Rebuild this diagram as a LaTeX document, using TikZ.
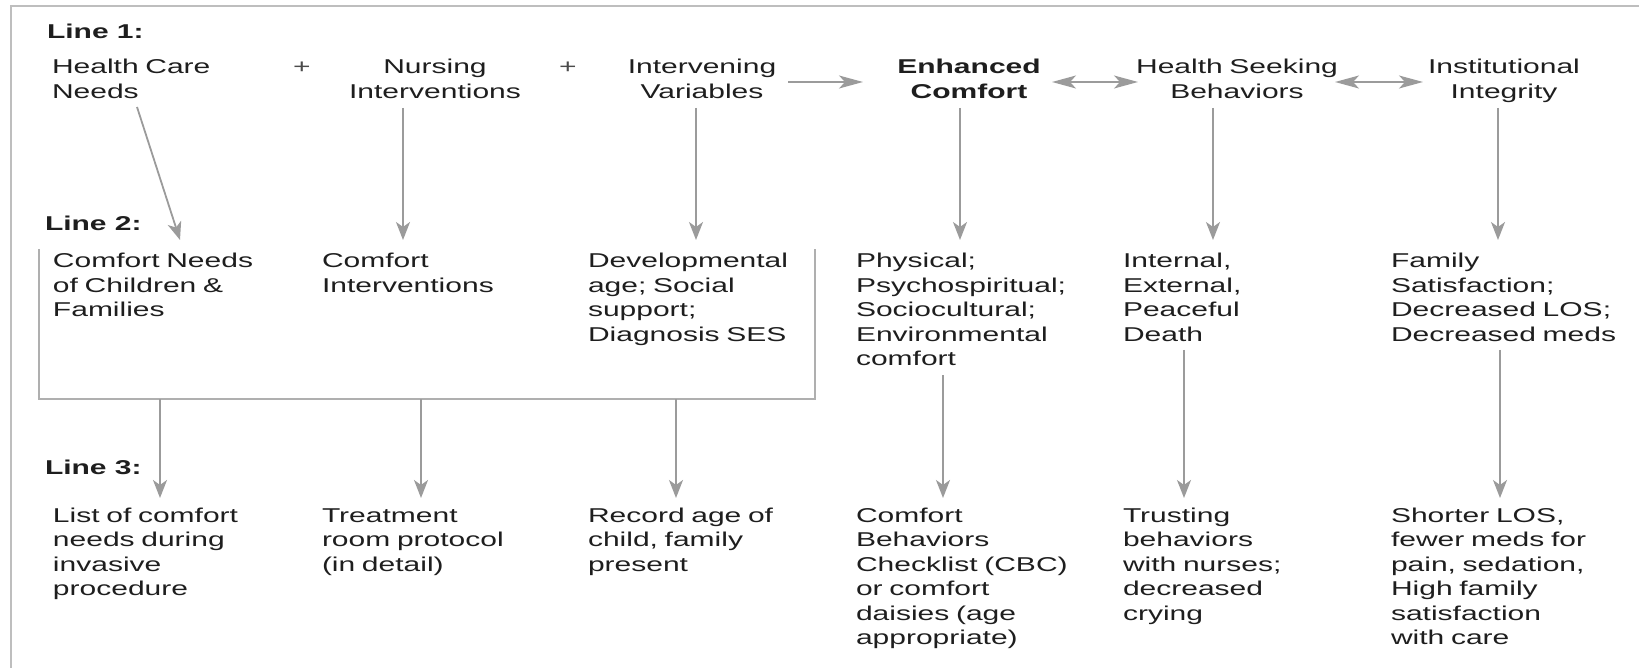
\documentclass[tikz,border=0pt]{standalone}
\usepackage{fontspec}
\setmainfont{Liberation Sans}[FakeStretch=1.5]
\usetikzlibrary{arrows.meta}
\definecolor{txt}{RGB}{30,30,30}
\definecolor{arrc}{RGB}{155,155,155}
\definecolor{boxc}{RGB}{175,175,175}
\definecolor{framec}{RGB}{190,190,190}
\begin{document}
\begin{tikzpicture}[x=0.5pt,y=-0.5pt,
  every node/.style={inner sep=0pt, outer sep=0pt, text=txt, font=\fontsize{10}{12.25}\selectfont},
  lt/.style={anchor=base west, text width=125pt, align=left},
  ct/.style={anchor=base, text width=130pt, align=center},
  lab/.style={anchor=base west, font=\fontsize{10}{12.25}\selectfont\bfseries},
  varr/.style={draw=arrc, line width=0.9pt, -{Stealth[length=9pt,width=7pt,inset=2.5pt]}},
  harr/.style={draw=arrc, line width=0.8pt, -{Stealth[length=12pt,width=6.5pt,inset=3pt]}},
  darr/.style={draw=arrc, line width=0.8pt, {Stealth[length=12pt,width=6.5pt,inset=3pt]}-{Stealth[length=12pt,width=6.5pt,inset=3pt]}},
]
\useasboundingbox (0,0) rectangle (1639,668);
% frame
\draw[framec, line width=1pt] (11,668) -- (11,6) -- (1639,6);
% box round line 2 (first three columns)
\draw[boxc, line width=0.8pt] (39,249) -- (39,399) -- (815,399) -- (815,249);

% labels
\node[lab] (l1) at (47,39) {Line 1:};
\node[lab] (l2) at (45,231) {Line 2:};
\node[lab] (l3) at (45,474) {Line 3:};

% line 1
\node[lt] (hcn) at (52,74) {Health Care\\Needs};
\node[anchor=base, text=txt!80] (p1) at (302,74) {+};
\node[ct] (ni) at (435,74) {Nursing\\Interventions};
\node[anchor=base, text=txt!80] (p2) at (568,74) {+};
\node[ct] (iv) at (702,74) {Intervening\\Variables};
\node[ct, font=\fontsize{10}{12.25}\selectfont\bfseries] (ec) at (969,74) {Enhanced\\Comfort};
\node[ct] (hsb) at (1237,74) {Health Seeking\\Behaviors};
\node[ct] (ii) at (1504,74) {Institutional\\Integrity};

% line 2
\node[lt] (cn) at (53,268) {Comfort Needs\\of Children \&\\Families};
\node[lt] (ci) at (322,268) {Comfort\\Interventions};
\node[lt] (da) at (588,268) {Developmental\\age; Social\\support;\\Diagnosis SES};
\node[lt] (pc) at (856,268) {Physical;\\Psychospiritual;\\Sociocultural;\\Environmental\\comfort};
\node[lt] (ie) at (1123,268) {Internal,\\External,\\Peaceful\\Death};
\node[lt] (fs) at (1391,268) {Family\\Satisfaction;\\Decreased LOS;\\Decreased meds};

% line 3
\node[lt] (lc) at (53,522) {List of comfort\\needs during\\invasive\\procedure};
\node[lt] (tr) at (322,522) {Treatment\\room protocol\\(in detail)};
\node[lt] (ra) at (588,522) {Record age of\\child, family\\present};
\node[lt] (cb) at (856,522) {Comfort\\Behaviors\\Checklist (CBC)\\or comfort\\daisies (age\\appropriate)};
\node[lt] (tb) at (1123,522) {Trusting\\behaviors\\with nurses;\\decreased\\crying};
\node[lt] (sl) at (1391,522) {Shorter LOS,\\fewer meds for\\pain, sedation,\\High family\\satisfaction\\with care};

% connector end points
\coordinate (a1s) at (137,107); \coordinate (a1e) at (180,240);
\coordinate (a2s) at (403,108); \coordinate (a2e) at (403,240);
\coordinate (a3s) at (696,108); \coordinate (a3e) at (696,240);
\coordinate (a4s) at (960,108); \coordinate (a4e) at (960,240);
\coordinate (a5s) at (1213,108); \coordinate (a5e) at (1213,240);
\coordinate (a6s) at (1498,108); \coordinate (a6e) at (1498,240);

\coordinate (h1s) at (788,82); \coordinate (h1e) at (863,82);
\coordinate (h2s) at (1052,82); \coordinate (h2e) at (1138,82);
\coordinate (h3s) at (1335,82); \coordinate (h3e) at (1423,82);

\coordinate (b1s) at (160,399); \coordinate (b1e) at (160,498);
\coordinate (b2s) at (421,399); \coordinate (b2e) at (421,498);
\coordinate (b3s) at (676,399); \coordinate (b3e) at (676,498);
\coordinate (b4s) at (943,375); \coordinate (b4e) at (943,498);
\coordinate (b5s) at (1184,350); \coordinate (b5e) at (1184,498);
\coordinate (b6s) at (1500,350); \coordinate (b6e) at (1500,498);

% line 1 horizontal connectors
\draw[harr] (h1s) -- (h1e);
\draw[darr] (h2s) -- (h2e);
\draw[darr] (h3s) -- (h3e);
% line 1 to line 2
\foreach \i in {1,...,6} {\draw[varr] (a\i s) -- (a\i e);}
% line 2 to line 3
\foreach \i in {1,...,6} {\draw[varr] (b\i s) -- (b\i e);}
\end{tikzpicture}
\end{document}
